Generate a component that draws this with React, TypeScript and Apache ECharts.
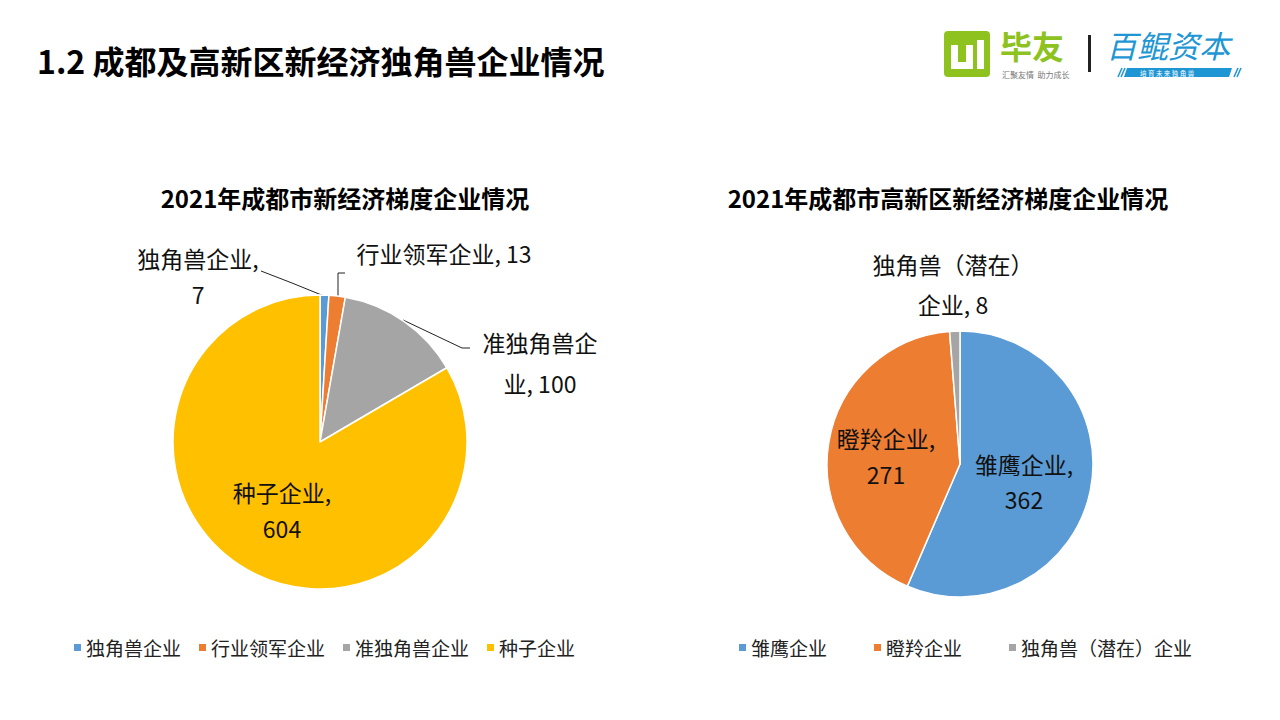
import React, { useEffect, useRef } from "react";
import * as echarts from "echarts";

const pageTitle = "1.2 成都及高新区新经济独角兽企业情况";
const leftTitle = "2021年成都市新经济梯度企业情况";
const rightTitle = "2021年成都市高新区新经济梯度企业情况";

const leftNames = ["独角兽企业", "行业领军企业", "准独角兽企业", "种子企业"];
const leftValues = [7, 13, 100, 604];
const leftLabels = ["独角兽企业,\n7", "行业领军企业, 13", "准独角兽企\n业, 100", "种子企业,\n604"];
const leftColors = ["#5B9BD5", "#ED7D31", "#A5A5A5", "#FFC000"];

const rightNames = ["雏鹰企业", "瞪羚企业", "独角兽（潜在）企业"];
const rightValues = [362, 271, 8];
const rightLabels = ["雏鹰企业,\n362", "瞪羚企业,\n271", "独角兽（潜在）\n企业, 8"];
const rightColors = ["#5B9BD5", "#ED7D31", "#A5A5A5"];

const FONT = "'Noto Sans CJK SC', 'Microsoft YaHei', sans-serif";

// label layout positions (pixel centres) and leader lines
const leftLabelPos = [
  { x: 198, y: 276, lh: 36, line: [[324, 296], [292, 283], [261, 271]] },
  { x: 444, y: 253, lh: 30, line: [[338, 296], [338, 273], [345, 273]] },
  { x: 540, y: 362, lh: 41, line: [[403, 320], [462, 348], [470, 348]] },
  { x: 282, y: 510, lh: 36, line: null },
];
const rightLabelPos = [
  { x: 1024, y: 481, lh: 35, line: null },
  { x: 886, y: 456, lh: 36, line: null },
  { x: 953, y: 284, lh: 40, line: null },
];

function buildData(names: string[], values: number[], labels: string[], colors: string[], pos: any[]) {
  return names.map((n, i) => ({
    name: n,
    value: values[i],
    itemStyle: { color: colors[i] },
    label: { formatter: labels[i], lineHeight: pos[i].lh },
    labelLine: { show: !!pos[i].line },
  }));
}

export default function App() {
  const ref = useRef<HTMLDivElement>(null);
  useEffect(() => {
    if (!ref.current) return;
    const chart = echarts.init(ref.current, undefined, { renderer: "svg" });
    const labelStyle = {
      show: true,
      position: "outside",
      fontFamily: FONT,
      fontSize: 23,
      color: "#111",
      align: "center",
    };
    const option: any = {
      animation: false,
      backgroundColor: "#ffffff",
      title: [
        {
          text: pageTitle,
          left: 32,
          top: 39,
          textStyle: { fontFamily: FONT, fontSize: 32, fontWeight: "bold", color: "#000" },
        },
        {
          text: leftTitle,
          left: 340,
          top: 180,
          textAlign: "center",
          textStyle: { fontFamily: FONT, fontSize: 24, fontWeight: "bold", color: "#000" },
        },
        {
          text: rightTitle,
          left: 943,
          top: 180,
          textAlign: "center",
          textStyle: { fontFamily: FONT, fontSize: 24, fontWeight: "bold", color: "#000" },
        },
      ],
      legend: [
        {
          left: 67,
          top: 633,
          icon: "rect",
          itemWidth: 9,
          itemHeight: 9,
          itemGap: 16,
          data: leftNames,
          textStyle: { fontFamily: FONT, fontSize: 19, color: "#222", padding: [0, 0, 0, -1] },
        },
        {
          left: 732,
          top: 633,
          icon: "rect",
          itemWidth: 9,
          itemHeight: 9,
          itemGap: 45,
          data: rightNames,
          textStyle: { fontFamily: FONT, fontSize: 19, color: "#222", padding: [0, 0, 0, -1] },
        },
      ],
      series: [
        {
          type: "pie",
          center: [320, 442],
          radius: 147,
          startAngle: 90,
          clockwise: true,
          avoidLabelOverlap: false,
          itemStyle: { borderColor: "#fff", borderWidth: 1.5 },
          label: labelStyle,
          labelLine: { show: true, lineStyle: { color: "#222", width: 1 } },
          labelLayout: (p: any) => {
            const q = leftLabelPos[p.dataIndex];
            const r: any = { x: q.x, y: q.y, align: "center", verticalAlign: "middle" };
            if (q.line) r.labelLinePoints = q.line;
            return r;
          },
          emphasis: { disabled: true },
          data: buildData(leftNames, leftValues, leftLabels, leftColors, leftLabelPos),
        },
        {
          type: "pie",
          center: [960, 464],
          radius: 133,
          startAngle: 90,
          clockwise: true,
          avoidLabelOverlap: false,
          itemStyle: { borderColor: "#fff", borderWidth: 1.5 },
          label: labelStyle,
          labelLine: { show: false },
          labelLayout: (p: any) => {
            const q = rightLabelPos[p.dataIndex];
            return { x: q.x, y: q.y, align: "center", verticalAlign: "middle" };
          },
          emphasis: { disabled: true },
          data: buildData(rightNames, rightValues, rightLabels, rightColors, rightLabelPos),
        },
      ],
      graphic: [
        // 毕友 logo
        { type: "rect", shape: { x: 944, y: 31, width: 46, height: 46, r: 4 }, style: { fill: "#8DC21F" } },
        { type: "rect", shape: { x: 951, y: 45, width: 7, height: 24 }, style: { fill: "#fff" } },
        { type: "rect", shape: { x: 951, y: 62, width: 22, height: 7 }, style: { fill: "#fff" } },
        { type: "rect", shape: { x: 966, y: 45, width: 7, height: 24 }, style: { fill: "#fff" } },
        { type: "rect", shape: { x: 977, y: 40, width: 7, height: 29 }, style: { fill: "#fff" } },
        {
          type: "text",
          x: 1000,
          y: 45,
          style: {
            text: "毕友",
            fontFamily: FONT,
            fontSize: 32,
            lineHeight: 30,
            fontWeight: "bold",
            fill: "#8DC21F",
            verticalAlign: "middle",
          },
        },
        {
          type: "text",
          x: 1002,
          y: 70,
          style: { text: "汇聚友情  助力成长", fontFamily: FONT, fontSize: 8, lineHeight: 9, fill: "#777" },
        },
        { type: "rect", shape: { x: 1088, y: 35, width: 3, height: 37 }, style: { fill: "#222" } },
        // 百鲲资本 logo
        {
          type: "text",
          x: 1106,
          y: 44,
          style: {
            text: "百鲲资本",
            fontFamily: FONT,
            fontSize: 31,
            lineHeight: 26,
            fontStyle: "italic",
            fontWeight: "normal",
            fill: "#1E96D4",
            verticalAlign: "middle",
          },
        },
        {
          type: "polygon",
          shape: { points: [[1127, 68], [1232, 68], [1229, 77], [1124, 77]] },
          style: { fill: "#1E96D4" },
        },
        {
          type: "text",
          x: 1140,
          y: 69.5,
          style: { text: "培 育 未 来 独 角 兽", fontFamily: FONT, fontSize: 6.5, lineHeight: 7, fill: "#fff" },
        },
        { type: "polyline", shape: { points: [[1118, 77], [1122, 68]] }, style: { stroke: "#1E96D4", lineWidth: 1.5 } },
        { type: "polyline", shape: { points: [[1121, 77], [1125, 68]] }, style: { stroke: "#1E96D4", lineWidth: 1.5 } },
        { type: "polyline", shape: { points: [[1234, 77], [1238, 68]] }, style: { stroke: "#1E96D4", lineWidth: 1.5 } },
        { type: "polyline", shape: { points: [[1237, 77], [1241, 68]] }, style: { stroke: "#1E96D4", lineWidth: 1.5 } },
      ],
    };
    chart.setOption(option);
    return () => chart.dispose();
  }, []);
  return (
    <div
      ref={ref}
      style={{ position: "fixed", left: 0, top: 0, width: 1280, height: 720, background: "#fff" }}
    />
  );
}
